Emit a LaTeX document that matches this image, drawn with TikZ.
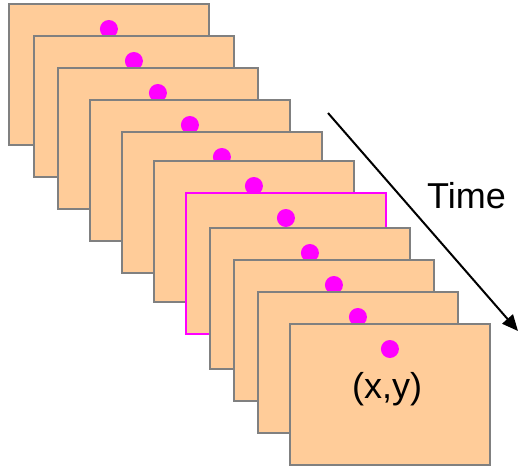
\documentclass[tikz,border=0pt]{standalone}
\usepackage{fontspec}
\setmainfont{Liberation Sans}
\usetikzlibrary{arrows.meta}
\definecolor{peach}{HTML}{FFCC99}
\definecolor{edgegray}{HTML}{808080}
\definecolor{mag}{HTML}{FF00FF}
\begin{document}
\begin{tikzpicture}[x=1pt,y=-1pt,
  frame/.style={draw=edgegray,fill=peach,line width=1.8pt,minimum width=200pt,minimum height=141pt,inner sep=0pt,anchor=north west},
  dotmark/.style={fill=mag,draw=none,circle,minimum size=18pt,inner sep=0pt},
  bigtext/.style={font=\fontsize{36}{43}\selectfont,inner sep=0pt}]
\useasboundingbox (0,0) rectangle (518,465);
\foreach \i/\x/\y/\c in {1/8/3/edgegray,2/33/35/edgegray,3/57/67/edgegray,4/89/99/edgegray,5/121/131/edgegray,6/153/160/edgegray,7/185/192/mag,8/209/227/edgegray,9/233/259/edgegray,10/257/291/edgegray,11/289/323/edgegray}{
  \node[frame,draw=\c] (f\i) at (\x,\y) {};
  \node[dotmark] (d\i) at ([yshift=-26pt]f\i.north) {};
}
\node[bigtext,anchor=base] (xy) at (387,398) {(x,y)};
\coordinate (a1) at (328,113);
\coordinate (a2) at (518,331);
\draw[line width=2pt,-{Triangle[length=16pt,width=14pt]}] (a1) -- (a2);
\node[bigtext,anchor=base west] (time) at (427,208) {Time};
\end{tikzpicture}
\end{document}
